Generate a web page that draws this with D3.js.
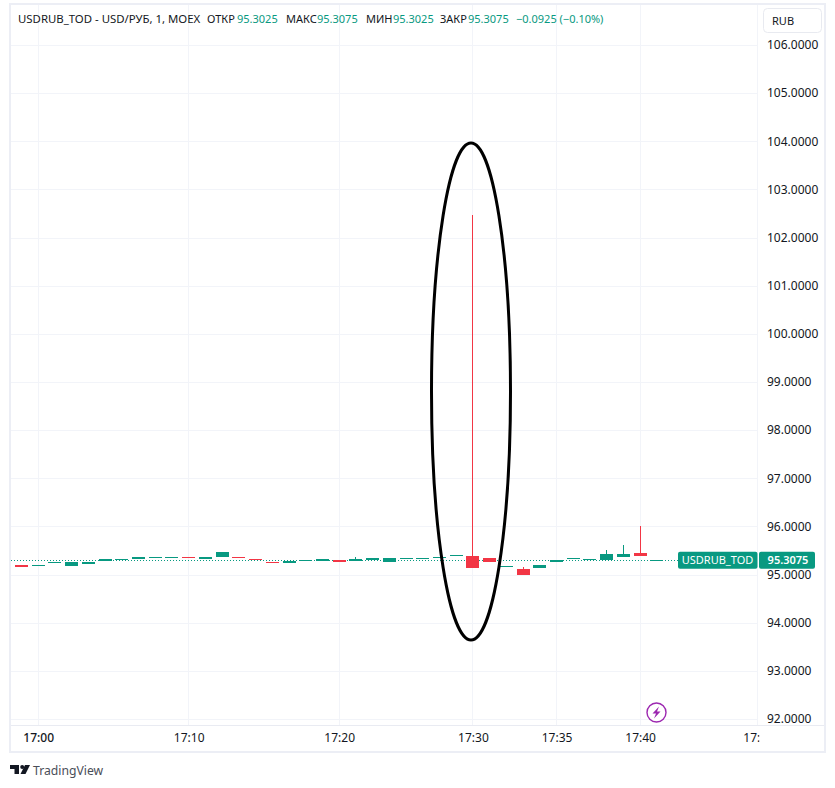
<!DOCTYPE html>
<html>
<head>
<meta charset="utf-8">
<script src="https://d3js.org/d3.v7.min.js"></script>
<style>
  html, body { margin: 0; padding: 0; background: #fff; }
  svg { display: block; }
  text { font-family: "Noto Sans", sans-serif; }
  .axis path, .axis line { display: none; }
  .axis text { font-size: 12px; fill: #131722; font-family: "Noto Sans", sans-serif; }
</style>
</head>
<body>
<div id="viz"></div>
<script>
// candles, one per traded minute
var opens  = [95.20, 95.18, 95.245, 95.18, 95.22, 95.28, 95.31, 95.325, 95.345, 95.345, 95.36, 95.325, 95.365, 95.365, 95.32, 95.26, 95.24, 95.285, 95.28, 95.30, 95.285, 95.30, 95.26, 95.33, 95.33, 95.345, 95.385, 95.385, 95.345, 95.165, 95.115, 95.145, 95.26, 95.325, 95.305, 95.305, 95.365, 95.45, 95.3025];
var closes = [95.155, 95.19, 95.26, 95.26, 95.26, 95.32, 95.325, 95.365, 95.365, 95.365, 95.33, 95.365, 95.47, 95.345, 95.30, 95.24, 95.28, 95.30, 95.32, 95.26, 95.32, 95.345, 95.345, 95.345, 95.345, 95.365, 95.405, 95.135, 95.26, 95.18, 94.99, 95.20, 95.30, 95.345, 95.325, 95.43, 95.43, 95.385, 95.3075];
// only the candles with a visible wick
var wickIndex = [20, 27, 30, 35, 36, 37];
var wickHigh  = [95.365, 102.47, 95.16, 95.51, 95.615, 96.01];

var priceTicks = [92, 93, 94, 95, 96, 97, 98, 99, 100, 101, 102, 103, 104, 105, 106];
var timeTicks  = [1, 10, 19, 27, 32, 37, 44];
var timeLabels = ["17:00", "17:10", "17:20", "17:30", "17:35", "17:40", "17:45"];
var lastPrice = 95.3075;
var lastLabel = "USDRUB_TOD";

var header = [
  { x: 18,  t: "USDRUB_TOD - USD/РУБ, 1, MOEX", up: false },
  { x: 207, t: "ОТКР", up: false },
  { x: 237, t: "95.3025", up: true },
  { x: 286, t: "МАКС", up: false },
  { x: 317, t: "95.3075", up: true },
  { x: 366, t: "МИН", up: false },
  { x: 393, t: "95.3025", up: true },
  { x: 440, t: "ЗАКР", up: false },
  { x: 468, t: "95.3075", up: true },
  { x: 516, t: "−0.0925 (−0.10%)", up: true }
];

var green = "#089981", red = "#f23645", gridCol = "#f2f4f9", frameCol = "#eceef5";
var width = 835, height = 788;

var svg = d3.select("#viz").append("svg").attr("width", width).attr("height", height);

var x = d3.scaleLinear().domain([0, 44]).range([21.5, 757.2]);
var y = d3.scaleLinear().domain([92, 106]).range([719, 45]);
var px = function(i) { return Math.floor(x(i)); };

// grid
svg.append("g").selectAll("line").data(priceTicks).join("line")
  .attr("x1", 11).attr("x2", 757)
  .attr("y1", function(d) { return Math.round(y(d)) + 0.5; })
  .attr("y2", function(d) { return Math.round(y(d)) + 0.5; })
  .attr("stroke", gridCol);
svg.append("g").selectAll("line").data(timeTicks.slice(0, 6)).join("line")
  .attr("x1", function(d) { return px(d) + 0.5; })
  .attr("x2", function(d) { return px(d) + 0.5; })
  .attr("y1", 5).attr("y2", 725)
  .attr("stroke", gridCol);

// last price dotted line
svg.append("line")
  .attr("x1", 11).attr("x2", 678)
  .attr("y1", Math.round(y(lastPrice)) + 0.5).attr("y2", Math.round(y(lastPrice)) + 0.5)
  .attr("stroke", green).attr("stroke-dasharray", "1,2");

// candles
var candles = opens.map(function(o, i) { return { i: i, o: o, c: closes[i] }; });
var colorOf = function(d) { return d.c >= d.o ? green : red; };

svg.append("g").attr("shape-rendering", "crispEdges").selectAll("rect").data(wickIndex).join("rect")
  .attr("x", function(d) { return px(d); })
  .attr("width", 1)
  .attr("y", function(d, i) { return y(wickHigh[i]); })
  .attr("height", function(d, i) { return y(Math.max(opens[d], closes[d])) - y(wickHigh[i]); })
  .attr("fill", function(d) { return colorOf(candles[d]); });

svg.append("g").selectAll("rect").data(candles).join("rect")
  .attr("x", function(d) { return px(d.i) - 6; })
  .attr("width", 13)
  .attr("y", function(d) { return Math.round(y(Math.max(d.o, d.c))); })
  .attr("height", function(d) { return Math.max(1, Math.round(Math.abs(y(d.o) - y(d.c)))); })
  .attr("fill", colorOf);

// the hand drawn ellipse over the spike
svg.append("ellipse")
  .attr("cx", 471).attr("cy", 391.5).attr("rx", 39.5).attr("ry", 248.5)
  .attr("fill", "none").attr("stroke", "#000").attr("stroke-width", 3);

// white axis panel + frame
svg.append("rect").attr("x", 758).attr("y", 5).attr("width", 67).attr("height", 720).attr("fill", "#fff");
svg.append("line").attr("x1", 757.5).attr("x2", 757.5).attr("y1", 4).attr("y2", 725).attr("stroke", gridCol);
svg.append("line").attr("x1", 11).attr("x2", 825).attr("y1", 725.5).attr("y2", 725.5).attr("stroke", "#e9ebf2");
svg.append("rect").attr("x", 10).attr("y", 4).attr("width", 815).attr("height", 748)
  .attr("fill", "none").attr("stroke", frameCol).attr("stroke-width", 2);

// axes
svg.append("g").attr("class", "axis").attr("transform", "translate(758,0)")
  .call(d3.axisRight(y).tickValues(priceTicks).tickSize(0).tickPadding(9).tickFormat(d3.format(".4f")));

// clip is in the axis group's own coordinates, the last label gets cut at the price scale
svg.append("clipPath").attr("id", "timeClip").append("rect")
  .attr("x", 11).attr("y", 0).attr("width", 748.5).attr("height", 25);
var timeAxis = svg.append("g").attr("class", "axis").attr("transform", "translate(0,726)").attr("clip-path", "url(#timeClip)")
  .call(d3.axisBottom(x).tickValues(timeTicks).tickSize(0).tickPadding(7)
    .tickFormat(function(d, i) { return timeLabels[i]; }));
timeAxis.selectAll("text")
  .attr("dx", function(d, i) { return i == 6 ? 1 : 0; })
  .style("font-weight", function(d, i) { return i == 0 ? "500" : null; });

// last price labels
var ly = y(lastPrice);
svg.append("rect").attr("x", 678).attr("y", ly - 8).attr("width", 79.5).attr("height", 17).attr("rx", 2).attr("fill", green);
svg.append("rect").attr("x", 759).attr("y", ly - 8).attr("width", 56).attr("height", 17).attr("rx", 2).attr("fill", green);
svg.append("text").attr("x", 717.5).attr("y", ly + 4.5).attr("text-anchor", "middle")
  .attr("font-size", 11).attr("fill", "#fff").text(lastLabel);
svg.append("text").attr("x", 788).attr("y", ly + 4.5).attr("text-anchor", "middle")
  .attr("font-size", 11).attr("font-weight", 600).attr("fill", "#fff").text(d3.format(".4f")(lastPrice));

// header
svg.append("g").selectAll("text").data(header).join("text")
  .attr("x", function(d) { return d.x; }).attr("y", 23)
  .attr("font-size", function(d, i) { return i == 0 ? 11.4 : 11; })
  .attr("fill", function(d) { return d.up ? green : "#131722"; })
  .text(function(d) { return d.t; });

// currency button
svg.append("rect").attr("x", 763.5).attr("y", 8.5).attr("width", 58).attr("height", 24).attr("rx", 4)
  .attr("fill", "#fff").attr("stroke", "#e8eaf0");
svg.append("text").attr("x", 772).attr("y", 25).attr("font-size", 11).attr("fill", "#131722").text("RUB");

// lightning badge
var badge = svg.append("g").attr("transform", "translate(656.5,712.5)");
badge.append("circle").attr("r", 9.5).attr("fill", "#fff").attr("stroke", "#9c27b0").attr("stroke-width", 1.4);
badge.append("path").attr("d", "M2.5,-6 L-4,1 L-0.5,1 L-2.5,6 L4,-1 L0.5,-1 Z").attr("fill", "#9c27b0");

// logo
var logo = svg.append("g").attr("transform", "translate(10,765)").attr("fill", "#131722");
logo.append("path").attr("d", "M0,0 H9 V9 H4.5 V4 H0 Z");
logo.append("circle").attr("cx", 12.2).attr("cy", 2).attr("r", 2);
logo.append("path").attr("d", "M15,0 H20 L15.5,9 H10.5 Z");
svg.append("text").attr("x", 33).attr("y", 775).attr("font-size", 12.2).attr("fill", "#4a4e58").text("TradingView");
</script>
</body>
</html>
